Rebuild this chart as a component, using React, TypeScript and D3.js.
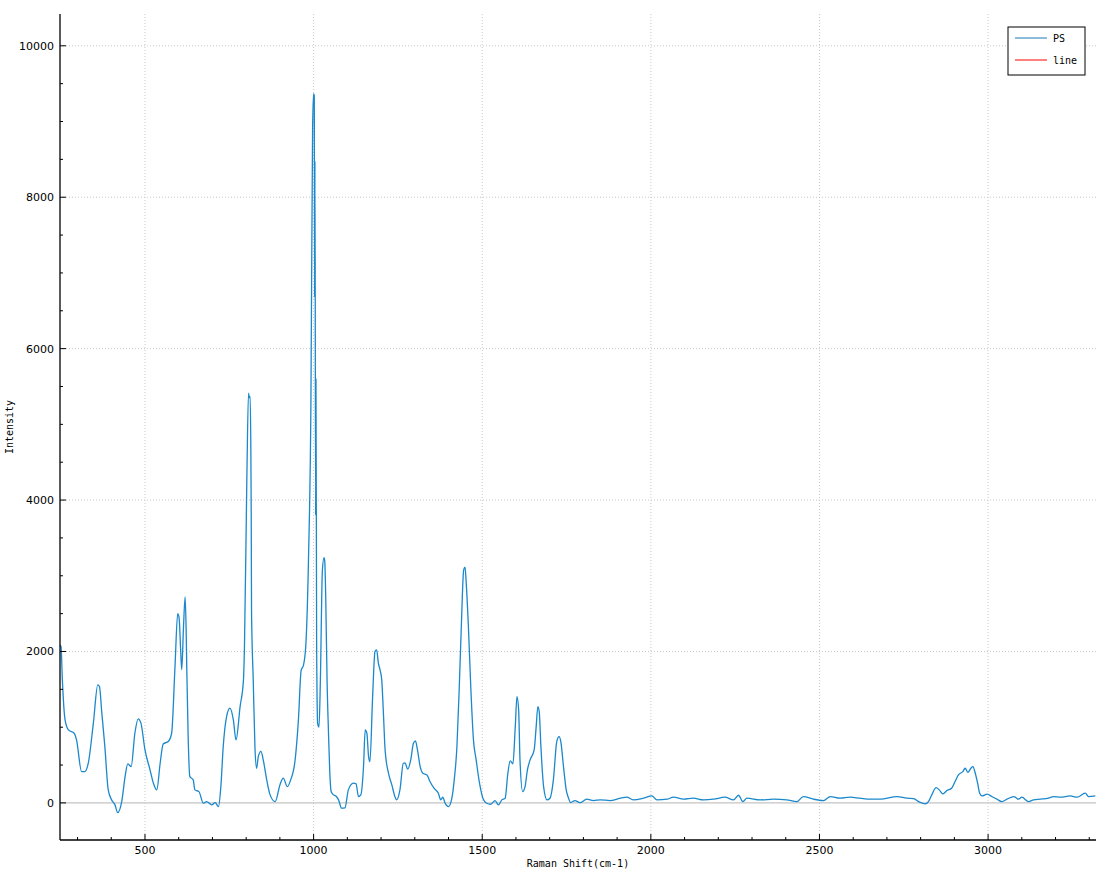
import React from 'react';
import * as d3 from 'd3';

// Raman spectrum
const shift: number[] = [
  248, 251, 255, 263, 273, 290, 297, 312, 322, 332, 347, 360, 365, 372, 381, 391, 401, 411, 419, 431,
  441, 449, 459, 470, 480, 488, 500, 515, 525, 535, 545, 554, 569, 579, 589, 597, 601, 606, 609, 614,
  619, 622, 624, 628, 633, 643, 648, 660, 673, 683, 698, 708, 718, 725, 732, 742, 752, 762, 770, 782,
  792, 795, 802, 807, 810, 812, 814, 815, 816, 821, 826, 831, 836, 844, 851, 861, 871, 886, 901, 910,
  922, 932, 945, 955, 963, 970, 977, 985, 992, 997, 1000, 1002, 1003, 1004, 1006, 1007, 1009, 1012, 1016, 1020,
  1026, 1031, 1033, 1036, 1040, 1044, 1048, 1052, 1058, 1066, 1074, 1083, 1093, 1103, 1118, 1126, 1133, 1140, 1148, 1153,
  1158, 1163, 1167, 1175, 1182, 1187, 1192, 1197, 1202, 1207, 1212, 1222, 1232, 1241, 1246, 1256, 1266, 1271, 1279, 1288,
  1296, 1302, 1308, 1316, 1324, 1336, 1345, 1357, 1370, 1377, 1383, 1390, 1400, 1410, 1417, 1425, 1432, 1438, 1445, 1449,
  1452, 1459, 1466, 1474, 1482, 1492, 1502, 1513, 1525, 1538, 1548, 1558, 1568, 1576, 1583, 1591, 1598, 1603, 1608, 1612,
  1620, 1627, 1634, 1642, 1654, 1660, 1665, 1669, 1674, 1682, 1692, 1701, 1711, 1721, 1728, 1733, 1741, 1749, 1756, 1762,
  1775, 1790, 1810, 1830, 1850, 1879, 1909, 1929, 1948, 1978, 2003, 2018, 2048, 2067, 2097, 2126, 2156, 2186, 2220, 2245,
  2260, 2273, 2285, 2324, 2364, 2403, 2433, 2452, 2482, 2512, 2532, 2561, 2591, 2620, 2650, 2680, 2730, 2759, 2779, 2794,
  2814, 2823, 2833, 2846, 2855, 2866, 2878, 2892, 2902, 2912, 2925, 2932, 2940, 2949, 2955, 2962, 2969, 2975, 2982, 2997,
  3011, 3026, 3041, 3056, 3076, 3090, 3100, 3120, 3135, 3155, 3179, 3194, 3214, 3244, 3264, 3288, 3298, 3318,
];

const intensity: number[] = [
  2080, 2065, 1625, 1096, 964, 920, 832, 414, 414, 528, 1057, 1559, 1537, 1189, 744, 172, 40, -26, -128, 17,
  347, 515, 480, 920, 1110, 1053, 700, 436, 260, 172, 524, 779, 810, 920, 1800, 2500, 2450, 2000, 1760, 2300,
  2720, 2300, 1757, 876, 347, 304, 172, 149, -4, 17, -26, 4, -49, 215, 744, 1140, 1251, 1096, 832, 1272,
  1625, 2065, 4267, 5412, 5350, 5367, 4600, 3830, 2510, 1625, 744, 458, 612, 680, 560, 304, 106, 17, 250, 326,
  215, 304, 560, 1100, 1750, 1820, 2090, 3250, 5270, 8900, 9367, 9340, 6680, 8480, 3800, 5600, 2090, 1050, 1000, 1600,
  3069, 3240, 3200, 2702, 1600, 950, 400, 150, 110, 90, 40, -70, -66, 172, 260, 251, 84, 106, 480, 964,
  920, 612, 546, 1404, 1999, 2021, 1845, 1757, 1625, 1185, 700, 392, 238, 84, 40, 172, 524, 530, 445, 568,
  788, 819, 700, 480, 392, 370, 282, 194, 128, 40, 75, -4, -49, 62, 304, 744, 1537, 2329, 3078, 3114,
  2946, 2329, 1537, 832, 568, 260, 62, -4, -18, 31, -26, 40, 62, 392, 555, 515, 1008, 1404, 1229, 568,
  149, 215, 436, 568, 700, 1008, 1272, 1206, 744, 215, 40, 62, 304, 810, 876, 810, 480, 172, 62, 4,
  31, 4, 49, 31, 40, 31, 62, 75, 40, 62, 92, 40, 49, 75, 49, 62, 40, 49, 75, 40,
  101, 17, 62, 40, 49, 40, 17, 84, 49, 31, 84, 62, 75, 62, 49, 49, 84, 62, 57, 17,
  -13, 17, 106, 202, 172, 119, 163, 194, 282, 370, 414, 458, 405, 458, 480, 392, 260, 128, 92, 115,
  84, 49, 17, 49, 84, 49, 75, 17, 40, 49, 62, 84, 75, 92, 75, 128, 84, 92,
];

const xTicks = [500, 1000, 1500, 2000, 2500, 3000];
const yTicks = [0, 2000, 4000, 6000, 8000, 10000];
const seriesNames = ['PS', 'line'];
const seriesColors = ['#1f77b4', '#ff0000'];

const W = 1113;
const H = 876;
const left = 60;
const right = 1096;
const top = 14;
const bottom = 840;

const App: React.FC = () => {
  const x = d3.scaleLinear().domain([248, 3320]).range([left, right]);
  const y = d3.scaleLinear().domain([-490, 10420]).range([bottom, top]);

  const pts = shift.map((s, i) => [s, intensity[i]] as [number, number]);
  const path = d3.line<[number, number]>()
    .x(d => x(d[0]))
    .y(d => y(d[1]))
    .curve(d3.curveMonotoneX)(pts) || '';

  const xMinor = d3.range(300, 3320, 100).filter(v => v % 500 !== 0);
  const yMinor = d3.range(-0, 10420, 500).filter(v => v % 2000 !== 0);

  const tickFont = '"DejaVu Sans", sans-serif';
  const monoFont = '"DejaVu Sans Mono", monospace';

  return (
    <div style={{ position: 'absolute', left: 0, top: 0 }}>
      <svg width={W} height={H} style={{ display: 'block', background: '#fff' }}>
        <defs>
          <clipPath id="plot">
            <rect x={left} y={top} width={right - left} height={bottom - top} />
          </clipPath>
        </defs>

        {/* grid */}
        {xTicks.map(t => (
          <line key={'gx' + t} x1={x(t)} x2={x(t)} y1={top} y2={bottom}
            stroke="#c8c8c8" strokeDasharray="1,2" />
        ))}
        {yTicks.filter(t => t !== 0).map(t => (
          <line key={'gy' + t} x1={left} x2={right} y1={y(t)} y2={y(t)}
            stroke="#c8c8c8" strokeDasharray="1,2" />
        ))}
        <line x1={left} x2={right} y1={y(0)} y2={y(0)} stroke="#c4c4c4" strokeWidth={1.2} />

        {/* spectrum */}
        <path d={path} fill="none" stroke="#1a88cc" strokeWidth={1.3}
          strokeLinejoin="round" clipPath="url(#plot)" />

        {/* axes */}
        <line x1={left} x2={left} y1={top} y2={bottom} stroke="#000" strokeWidth={1.3} />
        <line x1={left} x2={right} y1={bottom} y2={bottom} stroke="#000" strokeWidth={1.3} />

        {xTicks.map(t => (
          <g key={'xt' + t}>
            <line x1={x(t)} x2={x(t)} y1={bottom} y2={bottom - 6} stroke="#000" />
            <text x={x(t)} y={bottom + 14} textAnchor="middle" fontFamily={tickFont} fontSize={11}>{t}</text>
          </g>
        ))}
        {xMinor.map(t => (
          <line key={'xm' + t} x1={x(t)} x2={x(t)} y1={bottom} y2={bottom - 3} stroke="#000" />
        ))}
        {yTicks.map(t => (
          <g key={'yt' + t}>
            <line x1={left} x2={left + 6} y1={y(t)} y2={y(t)} stroke="#000" />
            <text x={left - 6} y={y(t) + 4} textAnchor="end" fontFamily={tickFont} fontSize={11}>{t}</text>
          </g>
        ))}
        {yMinor.map(t => (
          <line key={'ym' + t} x1={left} x2={left + 3} y1={y(t)} y2={y(t)} stroke="#000" />
        ))}

        {/* axis titles */}
        <text x={(left + right) / 2} y={867} textAnchor="middle" fontFamily={monoFont} fontSize={10}>
          Raman Shift(cm-1)
        </text>
        <text transform={`translate(13, ${427}) rotate(-90)`} textAnchor="middle" fontFamily={monoFont} fontSize={10}>
          Intensity
        </text>

        {/* legend */}
        <rect x={1008} y={27} width={77} height={48} fill="#fff" stroke="#000" strokeWidth={1} />
        {seriesNames.map((n, i) => (
          <g key={n}>
            <line x1={1015} x2={1047} y1={38 + i * 22} y2={38 + i * 22} stroke={seriesColors[i]} strokeWidth={1} />
            <text x={1053} y={42 + i * 22} fontFamily={monoFont} fontSize={10}>{n}</text>
          </g>
        ))}
      </svg>
    </div>
  );
};

export default App;
